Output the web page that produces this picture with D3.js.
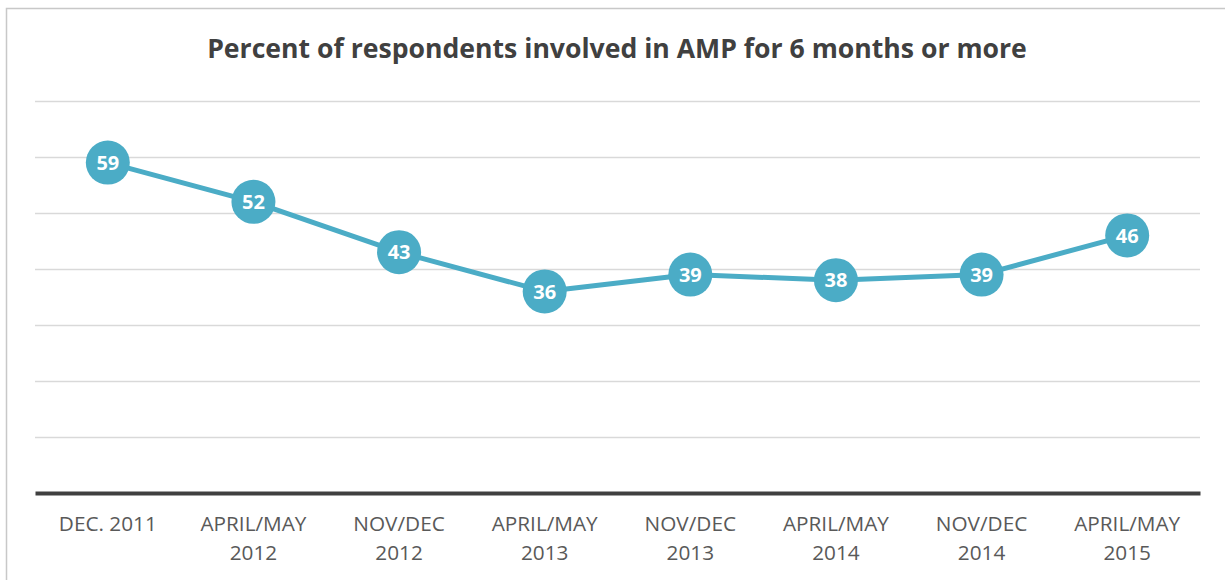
<!DOCTYPE html>
<html><head><meta charset="utf-8">
<script src="https://cdn.jsdelivr.net/npm/d3@7"></script>
<style>body{margin:0;background:#fff}svg{display:block}</style>
</head><body>
<svg id="c" width="1225" height="580"></svg>
<script>
const categories = [["DEC. 2011"],["APRIL/MAY","2012"],["NOV/DEC","2012"],["APRIL/MAY","2013"],["NOV/DEC","2013"],["APRIL/MAY","2014"],["NOV/DEC","2014"],["APRIL/MAY","2015"]];
const values = [59,52,43,36,39,38,39,46];
const yTicks = [0,10,20,30,40,50,60,70];
const title = "Percent of respondents involved in AMP for 6 months or more";

const svg = d3.select("#c");
const font = "Open Sans, Lato, sans-serif";
svg.append("rect").attr("x",6.5).attr("y",8.5).attr("width",1240).attr("height",600)
  .attr("fill","#fff").attr("stroke","#c8c8c8").attr("stroke-width",1.5);

const x = d3.scaleBand().domain(d3.range(categories.length)).range([35,1200]);
const y = d3.scaleLinear().domain([0,70]).range([493,101]);

const gridAxis = d3.axisLeft(y).tickValues(yTicks.filter(d=>d>0)).tickSize(-(1200-35)).tickFormat("");
const gg = svg.append("g").attr("transform","translate(35,0)").call(gridAxis);
gg.select(".domain").remove();
gg.selectAll("line").attr("stroke","#d9d9d9").attr("stroke-width",1.5);

const xAxis = d3.axisBottom(x).tickSize(0).tickFormat("");
const xg = svg.append("g").attr("transform","translate(0,493)").call(xAxis);
xg.select(".domain").attr("stroke","#404040").attr("stroke-width",4);

// measure label font size so "DEC. 2011" is ~98px wide
const probe = svg.append("text").attr("font-family",font).attr("font-size",20).text("DEC. 2011");
const lfs = 20*98/probe.node().getComputedTextLength();
probe.remove();

const lab = svg.append("g");
categories.forEach((c,i)=>{
  const t = lab.append("text").attr("x",x(i)+x.bandwidth()/2).attr("text-anchor","middle")
    .attr("font-family",font).attr("font-size",lfs).attr("fill","#595959");
  c.forEach((s,j)=>t.append("tspan").attr("x",x(i)+x.bandwidth()/2).attr("y",531+j*29).text(s));
});

const cx = i=>x(i)+x.bandwidth()/2;
svg.append("path").datum(values)
  .attr("d",d3.line().x((d,i)=>cx(i)).y(d=>y(d)))
  .attr("fill","none").attr("stroke","#4bacc6").attr("stroke-width",5).attr("stroke-linejoin","round");
const pts = svg.append("g").selectAll("g").data(values).join("g")
  .attr("transform",(d,i)=>`translate(${cx(i)},${y(d)})`);
pts.append("circle").attr("r",22).attr("fill","#4bacc6");
pts.append("text").attr("text-anchor","middle").attr("dy","0.36em")
  .attr("font-family",font).attr("font-weight","bold").attr("font-size",20).attr("fill","#fff")
  .text(d=>d);

const tt = svg.append("text").attr("x",617).attr("y",58).attr("text-anchor","middle")
  .attr("font-family",font).attr("font-weight","bold").attr("font-size",24).attr("fill","#404040").text(title);
const w = tt.node().getComputedTextLength();
tt.attr("font-size",24*820/w);
</script>
</body></html>
